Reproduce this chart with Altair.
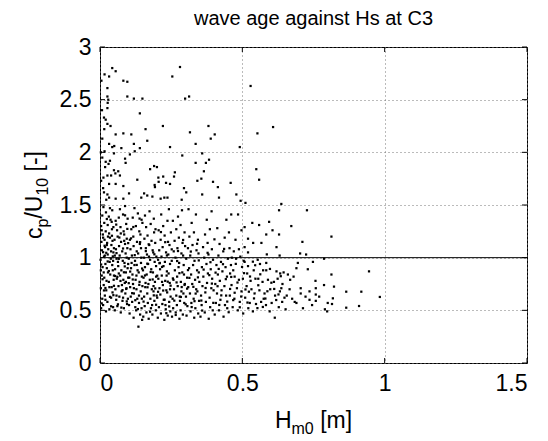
import altair as alt
import pandas as pd

# ---- data (Hm0 [m], cp/U10 [-]) ----
upper = [
(0.281,2.81),(0.043,2.80),(0.055,2.77),(0.016,2.74),(0.032,2.72),(0.005,2.68),(0.082,2.68),(0.096,2.67),(0.254,2.72),(0.026,2.61),
(0.026,2.53),(0.029,2.50),(0.096,2.53),(0.119,2.51),(0.149,2.51),(0.299,2.51),(0.313,2.53),(0.026,2.42),(0.027,2.47),(0.014,2.33),
(0.020,2.31),(0.026,2.27),(0.037,2.25),(0.140,2.37),(0.160,2.22),(0.221,2.25),(0.381,2.25),(0.008,2.13),(0.055,2.17),(0.082,2.18),
(0.110,2.17),(0.166,2.11),(0.316,2.19),(0.389,2.13),(0.403,2.17),(0.032,2.08),(0.043,2.05),(0.050,2.06),(0.075,2.04),(0.119,2.08),
(0.140,2.04),(0.246,2.05),(0.336,2.08),(0.003,2.00),(0.016,2.01),(0.049,1.99),(0.105,1.98),(0.122,2.01),(0.289,1.97),(0.359,1.99),
(0.383,1.93),(0.088,1.94),(0.090,1.90),(0.020,1.91),(0.030,1.89),(0.336,1.90),(0.190,1.87),(0.200,1.86),(0.176,1.84),(0.049,1.83),
(0.064,1.82),(0.054,1.80),(0.026,1.78),(0.039,1.78),(0.070,1.78),(0.012,1.76),(0.263,1.81),(0.260,1.77),(0.222,1.77),(0.205,1.76),
(0.206,1.72),(0.131,1.74),(0.356,1.75),(0.342,1.73),(0.365,1.82),(0.032,1.70),(0.055,1.70),(0.082,1.68),(0.192,1.69),(0.193,1.67),
(0.246,1.70),(0.295,1.66),(0.303,1.62),(0.397,1.72),(0.414,1.67),(0.459,1.71),(0.014,1.62),(0.026,1.60),(0.102,1.61),(0.155,1.61),
(0.166,1.59),(0.184,1.58),(0.226,1.57),(0.237,1.57),(0.359,1.60),(0.418,1.57),(0.032,1.57),(0.055,1.56),(0.082,1.56),(0.145,1.57),
(0.213,1.56),(0.287,1.55),(0.529,2.63),(0.608,2.24),(0.553,2.18),(0.491,2.05),(0.549,1.84),(0.559,1.74),(0.479,1.60),(0.494,1.54),
(0.511,1.52),(0.637,1.51),(0.008,1.95),(0.018,1.86),(0.004,1.73),(0.011,1.66),(0.022,1.55),(0.007,2.40),(0.015,2.22),(0.035,1.92),
(0.372,1.90),(0.232,1.71),
]
band_a = [
(0.004,0.52),(0.011,0.55),(0.021,0.49),(0.033,0.51),(0.046,0.53),(0.008,0.61),(0.017,0.64),(0.026,0.58),(0.039,0.62),(0.044,0.67),
(0.003,0.71),(0.013,0.74),(0.022,0.69),(0.031,0.77),(0.041,0.72),(0.048,0.79),(0.006,0.83),(0.015,0.81),(0.028,0.86),(0.036,0.84),
(0.045,0.88),(0.009,0.91),(0.019,0.94),(0.024,0.90),(0.034,0.96),(0.043,0.93),(0.002,0.98),(0.014,1.01),(0.027,1.03),(0.038,0.99),
(0.047,1.05),(0.007,1.07),(0.018,1.10),(0.029,1.08),(0.040,1.12),(0.049,1.09),(0.005,1.15),(0.016,1.17),(0.025,1.14),(0.035,1.19),
(0.044,1.16),(0.010,1.22),(0.020,1.25),(0.032,1.23),(0.042,1.27),(0.004,1.30),(0.015,1.33),(0.027,1.31),(0.037,1.36),(0.047,1.29),
(0.008,1.40),(0.021,1.43),(0.031,1.39),(0.043,1.45),(0.012,1.48),(0.035,1.47),(0.003,0.88),(0.023,0.78),(0.011,1.19),(0.039,1.06),
(0.019,0.60),(0.046,0.97),(0.028,1.20),(0.006,1.26),(0.033,0.72),(0.013,0.86),(0.041,1.34),(0.024,1.12),(0.049,0.83),(0.017,1.02),
]
band_b = [
(0.052,0.50),(0.061,0.54),(0.073,0.48),(0.084,0.52),(0.095,0.56),(0.057,0.60),(0.068,0.63),(0.079,0.59),(0.089,0.66),(0.098,0.61),
(0.054,0.70),(0.065,0.73),(0.076,0.68),(0.087,0.76),(0.093,0.71),(0.059,0.80),(0.071,0.83),(0.082,0.79),(0.091,0.86),(0.099,0.81),
(0.053,0.89),(0.064,0.92),(0.075,0.88),(0.086,0.95),(0.097,0.90),(0.058,0.99),(0.069,1.02),(0.080,0.97),(0.090,1.04),(0.056,1.08),
(0.067,1.11),(0.078,1.06),(0.088,1.13),(0.096,1.09),(0.051,1.17),(0.062,1.20),(0.074,1.15),(0.085,1.22),(0.094,1.18),(0.060,1.26),
(0.072,1.29),(0.083,1.25),(0.092,1.32),(0.055,1.35),(0.066,1.38),(0.081,1.41),(0.097,1.37),(0.070,1.46),(0.088,1.49),(0.063,0.96),
(0.077,0.74),(0.094,1.00),(0.058,0.64),(0.085,1.16),(0.066,0.85),(0.099,0.94),(0.073,1.23),(0.052,1.02),(0.081,0.62),(0.091,0.77),
]
band_c = [
(0.104,0.47),(0.118,0.43),(0.127,0.50),(0.135,0.345),(0.141,0.46),(0.148,0.41),(0.102,0.55),(0.113,0.58),(0.124,0.53),(0.137,0.57),
(0.146,0.52),(0.108,0.63),(0.119,0.66),(0.131,0.61),(0.143,0.68),(0.106,0.72),(0.116,0.75),(0.128,0.70),(0.139,0.77),(0.149,0.73),
(0.103,0.81),(0.114,0.84),(0.125,0.79),(0.136,0.86),(0.147,0.82),(0.109,0.90),(0.121,0.93),(0.132,0.88),(0.144,0.95),(0.101,0.99),
(0.112,1.02),(0.123,0.97),(0.134,1.04),(0.145,1.00),(0.107,1.08),(0.118,1.11),(0.129,1.06),(0.140,1.13),(0.105,1.17),(0.117,1.20),
(0.130,1.15),(0.142,1.22),(0.110,1.27),(0.126,1.30),(0.138,1.25),(0.149,1.33),(0.115,1.38),(0.133,1.42),(0.146,1.36),(0.121,1.47),
(0.137,0.64),(0.111,0.95),(0.128,0.83),(0.144,1.09),(0.119,0.71),
]
band_d = [
(0.152,0.44),(0.163,0.48),(0.171,0.42),(0.184,0.46),(0.196,0.50),(0.157,0.54),(0.168,0.57),(0.179,0.52),(0.191,0.59),(0.155,0.63),
(0.166,0.66),(0.177,0.61),(0.188,0.68),(0.199,0.64),(0.159,0.72),(0.170,0.75),(0.182,0.70),(0.193,0.77),(0.153,0.81),(0.164,0.84),
(0.175,0.79),(0.186,0.86),(0.197,0.82),(0.158,0.91),(0.169,0.94),(0.180,0.89),(0.192,0.96),(0.154,1.00),(0.165,1.03),(0.176,0.98),
(0.187,1.05),(0.198,1.01),(0.161,1.09),(0.173,1.12),(0.185,1.07),(0.194,1.14),(0.156,1.18),(0.167,1.21),(0.181,1.16),(0.190,1.24),
(0.162,1.29),(0.178,1.32),(0.195,1.27),(0.158,1.40),(0.174,1.44),(0.189,1.37),(0.183,0.55),(0.160,0.76),(0.197,0.92),(0.172,1.01),
(0.151,0.88),(0.188,0.73),
]
band_e = [
(0.203,0.43),(0.214,0.47),(0.226,0.41),(0.238,0.45),(0.247,0.49),(0.207,0.53),(0.219,0.56),(0.231,0.51),(0.243,0.58),(0.201,0.62),
(0.212,0.65),(0.224,0.60),(0.236,0.67),(0.248,0.63),(0.209,0.71),(0.221,0.74),(0.233,0.69),(0.245,0.76),(0.205,0.80),(0.217,0.83),
(0.229,0.78),(0.241,0.85),(0.211,0.89),(0.223,0.92),(0.235,0.87),(0.246,0.94),(0.204,0.98),(0.216,1.01),(0.228,0.96),(0.240,1.03),
(0.208,1.07),(0.220,1.10),(0.232,1.05),(0.244,1.12),(0.213,1.17),(0.227,1.21),(0.239,1.15),(0.206,1.26),(0.222,1.30),(0.237,1.35),
(0.249,1.24),(0.215,1.41),(0.242,1.46),(0.230,0.55),(0.218,0.77),(0.234,0.83),(0.210,0.95),(0.246,0.70),
]
band_f = [
(0.253,0.44),(0.266,0.48),(0.279,0.42),(0.291,0.46),(0.257,0.52),(0.270,0.55),(0.283,0.50),(0.296,0.57),(0.255,0.61),(0.268,0.64),
(0.281,0.59),(0.293,0.66),(0.260,0.70),(0.273,0.73),(0.286,0.68),(0.298,0.75),(0.258,0.79),(0.271,0.82),(0.284,0.77),(0.295,0.84),
(0.263,0.88),(0.276,0.91),(0.289,0.86),(0.252,0.97),(0.265,1.00),(0.278,0.95),(0.292,1.02),(0.259,1.06),(0.272,1.09),(0.286,1.04),
(0.299,1.11),(0.262,1.16),(0.277,1.19),(0.290,1.14),(0.268,1.27),(0.283,1.31),(0.297,1.24),(0.274,1.39),(0.288,1.45),(0.256,1.35),
(0.280,0.63),(0.294,0.93),
]
band_g = [
(0.304,0.45),(0.318,0.49),(0.331,0.43),(0.345,0.47),(0.307,0.54),(0.321,0.57),(0.335,0.52),(0.348,0.59),(0.302,0.63),(0.316,0.66),
(0.329,0.61),(0.342,0.68),(0.310,0.72),(0.324,0.75),(0.338,0.70),(0.306,0.81),(0.320,0.84),(0.334,0.79),(0.347,0.86),(0.313,0.90),
(0.327,0.93),(0.341,0.88),(0.303,0.99),(0.317,1.02),(0.332,0.97),(0.346,1.04),(0.309,1.09),(0.325,1.12),(0.339,1.07),(0.314,1.20),
(0.330,1.24),(0.344,1.17),(0.322,1.33),(0.337,1.41),(0.311,1.46),(0.349,0.77),
]
band_h = [
(0.353,0.44),(0.368,0.48),(0.382,0.42),(0.396,0.50),(0.357,0.55),(0.372,0.58),(0.387,0.53),(0.355,0.64),(0.370,0.67),(0.385,0.62),
(0.399,0.69),(0.360,0.73),(0.376,0.76),(0.391,0.71),(0.363,0.82),(0.379,0.85),(0.394,0.80),(0.358,0.91),(0.374,0.94),(0.389,0.89),
(0.366,1.00),(0.381,1.03),(0.397,0.98),(0.362,1.10),(0.378,1.14),(0.393,1.08),(0.369,1.22),(0.386,1.27),(0.375,1.36),(0.392,1.44),
]
band_i = [
(0.403,0.46),(0.418,0.50),(0.434,0.44),(0.447,0.52),(0.407,0.57),(0.423,0.60),(0.439,0.55),(0.411,0.66),(0.427,0.69),(0.443,0.64),
(0.405,0.75),(0.421,0.78),(0.437,0.73),(0.414,0.84),(0.430,0.87),(0.446,0.82),(0.409,0.93),(0.425,0.96),(0.441,0.91),(0.416,1.02),
(0.433,1.06),(0.449,0.99),(0.420,1.13),(0.438,1.19),(0.412,1.28),(0.444,1.36),
]
band_j = [
(0.453,1.24),(0.461,1.41),(0.485,1.41),(0.476,1.17),(0.497,1.26),(0.508,1.29),(0.520,1.18),(0.535,1.33),(0.538,1.14),(0.455,1.09),
(0.470,1.06),(0.488,1.08),(0.508,1.10),(0.520,1.05),(0.463,1.00),(0.478,0.99),(0.493,1.01),(0.505,0.97),(0.460,0.93),(0.468,0.88),
(0.508,0.96),(0.520,0.92),(0.517,0.85),(0.540,0.88),(0.457,0.85),(0.473,0.82),(0.488,0.79),(0.502,0.80),(0.529,0.78),(0.546,0.80),
(0.462,0.74),(0.481,0.71),(0.497,0.68),(0.515,0.73),(0.532,0.70),(0.456,0.64),(0.472,0.61),(0.491,0.58),(0.510,0.62),(0.526,0.57),
(0.543,0.66),(0.466,0.53),(0.484,0.50),(0.503,0.47),(0.521,0.52),(0.537,0.49),(0.548,0.56),
]
band_k = [
(0.559,1.31),(0.594,1.34),(0.606,1.26),(0.584,1.22),(0.629,1.22),(0.567,1.14),(0.620,1.10),(0.631,1.02),(0.554,0.98),(0.562,0.94),
(0.584,0.95),(0.573,0.88),(0.584,0.88),(0.620,0.87),(0.633,0.85),(0.645,0.86),(0.556,0.80),(0.571,0.77),(0.590,0.79),(0.611,0.77),
(0.624,0.80),(0.641,0.75),(0.560,0.69),(0.578,0.66),(0.598,0.70),(0.615,0.64),(0.632,0.68),(0.648,0.62),(0.566,0.58),(0.583,0.55),
(0.596,0.49),(0.614,0.43),(0.603,0.57),(0.628,0.53),(0.640,0.58),(0.652,0.51),(0.575,0.61),(0.637,0.71),
]
band_l = [
(0.672,1.30),(0.711,1.15),(0.703,1.04),(0.724,1.03),(0.695,0.95),(0.748,0.96),(0.690,0.90),(0.730,0.89),(0.660,0.84),(0.668,0.79),
(0.680,0.82),(0.757,0.78),(0.666,0.70),(0.684,0.58),(0.690,0.57),(0.705,0.71),(0.705,0.66),(0.713,0.52),(0.736,0.60),(0.736,0.68),
(0.758,0.71),(0.758,0.65),(0.758,0.59),(0.787,0.74),(0.800,0.57),(0.798,0.49),(0.656,0.64),(0.675,0.61),(0.722,0.63),(0.745,0.55),
(0.770,0.63),(0.727,1.45),(0.629,1.45),(0.787,0.99),(0.790,0.51),
]
band_m = [
(0.822,0.725),(0.818,0.614),(0.813,0.84),(0.813,1.20),(0.865,0.677),(0.918,0.677),(0.865,0.525),(0.910,0.541),(0.945,0.87),
(0.815,0.56),(0.983,0.627),
]
core_1 = [
(0.006,0.566),(0.019,0.712),(0.031,0.873),(0.047,0.644),(0.058,1.043),(0.072,0.779),(0.087,0.917),(0.099,1.138),(0.011,1.052),(0.024,1.367),
(0.039,0.538),(0.053,0.826),(0.068,1.191),(0.079,0.692),(0.094,0.585),(0.106,0.868),(0.122,1.024),(0.138,0.742),(0.147,0.611),(0.009,0.795),
(0.027,0.964),(0.042,1.208),(0.063,0.557),(0.081,1.087),(0.096,1.273),(0.113,0.663),(0.129,0.931),(0.141,1.147),(0.016,1.113),(0.035,0.628),
(0.049,0.733),(0.066,0.989),(0.084,0.861),(0.101,0.758),(0.117,1.291),(0.133,0.512),(0.148,0.897),(0.004,0.935),(0.022,1.046),(0.057,1.314),
(0.075,0.526),(0.092,0.703),(0.109,1.183),(0.124,0.596),(0.139,1.371),(0.014,0.689),(0.045,1.012),(0.061,0.818),(0.088,1.402),(0.115,0.793),
]
core_2 = [
(0.153,0.583),(0.167,0.719),(0.178,0.864),(0.191,1.032),(0.204,0.676),(0.218,0.912),(0.229,1.147),(0.243,0.537),(0.256,0.803),(0.271,0.968),
(0.284,0.627),(0.297,0.741),(0.309,0.882),(0.322,0.531),(0.336,0.659),(0.347,0.974),(0.161,1.062),(0.176,0.487),(0.189,0.642),(0.201,0.829),
(0.214,1.243),(0.227,0.601),(0.238,0.772),(0.252,1.079),(0.266,0.456),(0.279,0.853),(0.292,1.168),(0.306,0.706),(0.319,1.058),(0.332,0.587),
(0.344,0.813),(0.158,0.831),(0.171,1.127),(0.185,0.793),(0.197,0.553),(0.209,0.947),(0.222,0.688),(0.235,1.021),(0.248,0.734),(0.261,0.592),
(0.274,1.063),(0.287,0.721),(0.301,0.557),(0.314,0.808),(0.328,0.723),(0.341,1.132),(0.166,0.943),(0.194,0.708),(0.233,0.473),(0.269,0.765),
]
core_3 = [
(0.356,0.593),(0.371,0.712),(0.384,0.834),(0.398,0.571),(0.413,0.729),(0.426,0.642),(0.442,0.796),(0.457,0.703),(0.468,0.597),(0.483,0.764),
(0.496,0.631),(0.511,0.698),(0.527,0.821),(0.541,0.613),(0.556,0.738),(0.572,0.532),(0.588,0.681),(0.602,0.762),(0.619,0.598),(0.635,0.824),
(0.364,0.887),(0.378,1.046),(0.393,0.754),(0.406,0.858),(0.419,0.551),(0.432,0.938),(0.447,0.583),(0.461,0.817),(0.477,0.941),(0.491,0.529),
(0.506,0.853),(0.523,0.677),(0.545,0.928),(0.563,0.842),(0.581,0.612),(0.597,0.893),(0.612,0.703),(0.627,0.651),(0.359,0.498),(0.388,0.957),
(0.402,1.174),(0.417,0.893),(0.436,1.083),(0.452,0.482),(0.473,0.667),(0.499,0.912),(0.518,0.574),(0.537,0.962),(0.553,0.521),(0.586,1.031),
]

ref_level = [1.0]
x_ticks = [0, 0.5, 1.0, 1.5]
y_ticks = [0, 0.5, 1.0, 1.5, 2.0, 2.5, 3.0]
title_text = "wave age against Hs at C3"

groups = [upper, band_a, band_b, band_c, band_d, band_e, band_f, band_g,
          band_h, band_i, band_j, band_k, band_l, band_m, core_1, core_2, core_3]
pts = [p for g in groups for p in g]
df = pd.DataFrame({"hs": [p[0] for p in pts], "cp": [p[1] for p in pts]})

W, H = 427, 316
FONT = "Liberation Sans"
LAB = 23
TIT = 23
SUB = 16

xs = alt.Scale(domain=[0, 1.5], nice=False, zero=False)
ys = alt.Scale(domain=[0, 3], nice=False, zero=False)

xaxis = alt.Axis(values=x_ticks, format="~g", title=None, ticks=False, domain=False,
                 grid=True, gridDash=[1, 3], gridColor="#777777", gridWidth=1,
                 labelFontSize=LAB, labelFont=FONT, labelColor="black", labelPadding=9)
yaxis = alt.Axis(values=y_ticks, format="~g", title=None, ticks=False, domain=False,
                 grid=True, gridDash=[1, 3], gridColor="#777777", gridWidth=1,
                 labelFontSize=LAB, labelFont=FONT, labelColor="black", labelPadding=9)

base = alt.Chart(df)
points = base.mark_square(size=5, color="black", opacity=1).encode(
    x=alt.X("hs:Q", scale=xs, axis=xaxis),
    y=alt.Y("cp:Q", scale=ys, axis=yaxis),
)

hline = alt.Chart(pd.DataFrame({"r": ref_level})).mark_rule(color="black", strokeWidth=1).encode(
    y=alt.Y("r:Q", scale=ys)
)

xt = pd.DataFrame({"t": x_ticks})
yt = pd.DataFrame({"t": y_ticks})
tk = 5
xt_bot = alt.Chart(xt).mark_rule(color="black").encode(x=alt.X("t:Q", scale=xs), y=alt.value(H), y2=alt.value(H - tk))
xt_top = alt.Chart(xt).mark_rule(color="black").encode(x=alt.X("t:Q", scale=xs), y=alt.value(0), y2=alt.value(tk))
yt_l = alt.Chart(yt).mark_rule(color="black").encode(y=alt.Y("t:Q", scale=ys), x=alt.value(0), x2=alt.value(tk))
yt_r = alt.Chart(yt).mark_rule(color="black").encode(y=alt.Y("t:Q", scale=ys), x=alt.value(W), x2=alt.value(W - tk))

one = pd.DataFrame({"k": [0]})

def txt(s, x, y, size, angle=0):
    return alt.Chart(one).mark_text(text=s, font=FONT, fontSize=size, color="black",
                                    align="left", baseline="alphabetic", angle=angle).encode(
        x=alt.value(x), y=alt.value(y))

title = alt.Chart(one).mark_text(text=title_text, font=FONT, fontSize=20, color="black",
                                 align="center", baseline="alphabetic").encode(
    x=alt.value(W / 2), y=alt.value(-22))

# x title: H_m0 [m]
wH = 0.722 * TIT
wm0 = (0.833 + 0.556) * SUB
wsp = 0.278 * TIT
wrest = (0.278 + 0.833 + 0.278) * TIT
x0 = W / 2 - (wH + wm0 + wsp + wrest) / 2
xb = 381
xtitle = [txt("H", x0, xb, TIT), txt("m0", x0 + wH, xb + 6, SUB),
          txt("[m]", x0 + wH + wm0 + wsp, xb, TIT)]

# y title: c_p/U_10 [-] rotated
wc = 0.5 * TIT
wp = 0.556 * SUB
wU = (0.278 + 0.722) * TIT
w10 = 2 * 0.556 * SUB
wr = (0.278 + 0.333 + 0.278) * TIT
tot = wc + wp + wU + w10 + wsp + wr
yb = -58
y0 = 148 + tot / 2
ytitle = [
    txt("c", yb, y0, TIT, 270),
    txt("p", yb + 6, y0 - wc, SUB, 270),
    txt("/U", yb, y0 - wc - wp, TIT, 270),
    txt("10", yb + 6, y0 - wc - wp - wU, SUB, 270),
    txt("[-]", yb, y0 - wc - wp - wU - w10 - wsp, TIT, 270),
]

chart = alt.layer(points, hline, xt_bot, xt_top, yt_l, yt_r, title, *xtitle, *ytitle).properties(
    width=W, height=H,
    autosize=alt.AutoSizeParams(type="none"),
    padding={"left": 100, "top": 47, "right": 21, "bottom": 78},
    background="white",
).configure_view(stroke="black", strokeWidth=1)

chart.save("out.html", embed_options={"renderer": "svg", "actions": False})
